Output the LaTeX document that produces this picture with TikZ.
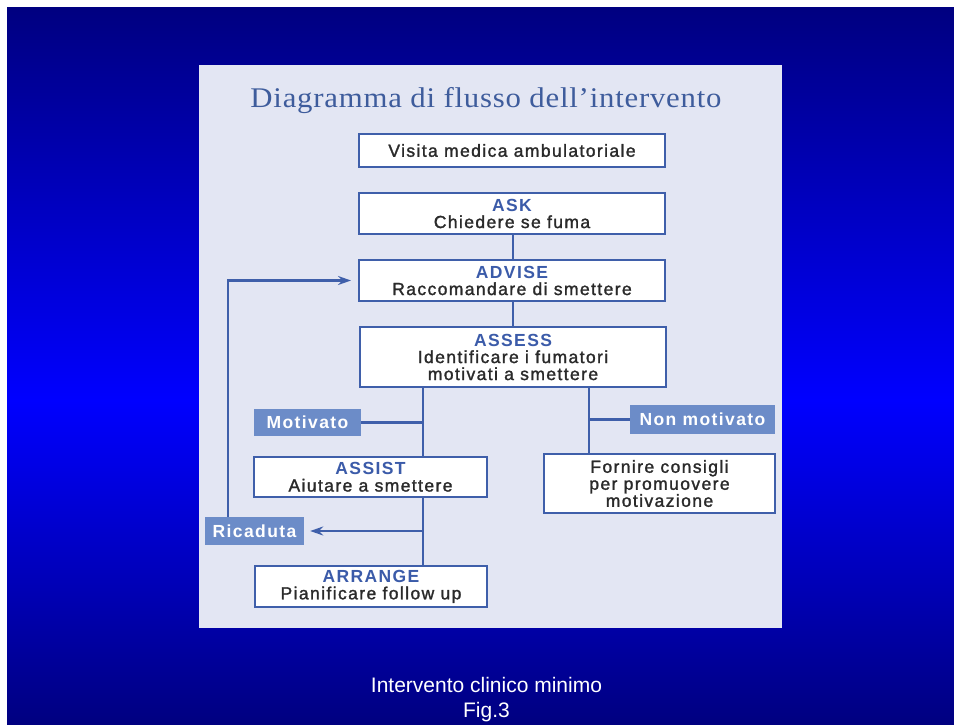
\documentclass[tikz,border=0pt]{standalone}
\usepackage{graphicx}
\usepackage{fontspec}
\setmainfont{Liberation Sans}
\newfontfamily\bxfont{Liberation Sans}[LetterSpace=8,FakeBold=1.5]
\newfontfamily\bxbold{Liberation Sans}[LetterSpace=8]
\newfontfamily\ttlfont{Liberation Serif}[LetterSpace=2.5]
\usetikzlibrary{arrows.meta}
\definecolor{bgnavy}{HTML}{000080}
\definecolor{bgblue}{HTML}{0000FF}
\definecolor{panel}{HTML}{E3E6F3}
\definecolor{lineblue}{HTML}{3F5FAA}
\definecolor{labelblue}{HTML}{3B5BA9}
\definecolor{tagfill}{HTML}{6C8CC8}
\definecolor{titleblue}{HTML}{3E5C9C}
\definecolor{txt}{HTML}{2A2A2A}
\tikzset{
  wbox/.style={draw=lineblue, line width=2pt, fill=white, inner sep=0pt, align=center,
    text=txt, font=\bxfont\fontsize{17.5}{17}\selectfont},
  tag/.style={fill=tagfill, inner sep=0pt, text=white, align=center,
    font=\bxbold\bfseries\fontsize{17.5}{17}\selectfont},
  conn/.style={draw=lineblue, line width=2.5pt},
  arr/.style={-{Stealth[length=13pt,width=9pt]}},
}
\newcommand{\hd}[1]{{\bxbold\bfseries\color{labelblue}#1}}
\begin{document}
\begin{tikzpicture}[x=1pt,y=-1pt]
\useasboundingbox (0,0) rectangle (954,724);
\fill[white] (0,0) rectangle (954,724);
\shade[top color=bgnavy, bottom color=bgblue] (7,7) rectangle (954,400.5);
\shade[top color=bgblue, bottom color=bgnavy] (7,400) rectangle (954,724);
\fill[panel] (199,65) rectangle (782,628);

\node[anchor=base, text=titleblue, inner sep=0pt] (title) at (486,107)
  {\ttlfont\fontsize{28.5}{30}\selectfont\resizebox{471pt}{\height}{Diagramma di flusso dell’intervento}};

\node[wbox, minimum width=306pt, minimum height=33pt] (visita) at (512,150.5) {Visita medica ambulatoriale};
\node[wbox, minimum width=306pt, minimum height=41pt] (ask) at (512,213.5) {\hd{ASK}\\Chiedere se fuma};
\node[wbox, minimum width=306pt, minimum height=41pt] (advise) at (512,280.5) {\hd{ADVISE}\\Raccomandare di smettere};
\node[wbox, minimum width=306pt, minimum height=60pt] (assess) at (513,357) {\hd{ASSESS}\\Identificare i fumatori\\motivati a smettere};
\node[tag, minimum width=107pt, minimum height=27pt] (motivato) at (307.5,422.5) {Motivato};
\node[tag, minimum width=145pt, minimum height=29pt] (nonmot) at (702.5,419.5) {Non motivato};
\node[wbox, minimum width=233pt, minimum height=40pt] (assist) at (370.5,477) {\hd{ASSIST}\\Aiutare a smettere};
\node[wbox, minimum width=231pt, minimum height=59pt] (fornire) at (659.5,483.5) {Fornire consigli\\per promuovere\\motivazione};
\node[tag, minimum width=99pt, minimum height=28pt] (ricaduta) at (254.5,531) {Ricaduta};
\node[wbox, minimum width=232pt, minimum height=41pt] (arrange) at (371,586.5) {\hd{ARRANGE}\\Pianificare follow up};

\coordinate (xm) at (513,0);
\coordinate (xl) at (423,0);
\coordinate (xr) at (589,0);
\coordinate (xf) at (228,0);

\draw[conn] (ask.south -| xm) -- (advise.north -| xm);
\draw[conn] (advise.south -| xm) -- (assess.north -| xm);
\draw[conn] (assess.south -| xl) -- (assist.north -| xl);
\draw[conn] (motivato.east) -- (motivato.east -| xl);
\draw[conn] (assess.south -| xr) -- (fornire.north -| xr);
\draw[conn] (nonmot.west) -- (nonmot.west -| xr);
\draw[conn] (assist.south -| xl) -- (arrange.north -| xl);
\draw[conn, arr, shorten >=6pt] (ricaduta.east -| xl) -- (ricaduta.east);
\draw[conn, arr, shorten >=7pt] (ricaduta.north -| xf) |- (advise.west);

\node[anchor=base, text=white, font=\fontsize{21}{24}\selectfont, inner sep=0pt] (cap1) at (486.5,692) {Intervento clinico minimo};
\node[anchor=base, text=white, font=\fontsize{21}{24}\selectfont, inner sep=0pt] (cap2) at (486.5,717) {Fig.3};
\end{tikzpicture}
\end{document}
